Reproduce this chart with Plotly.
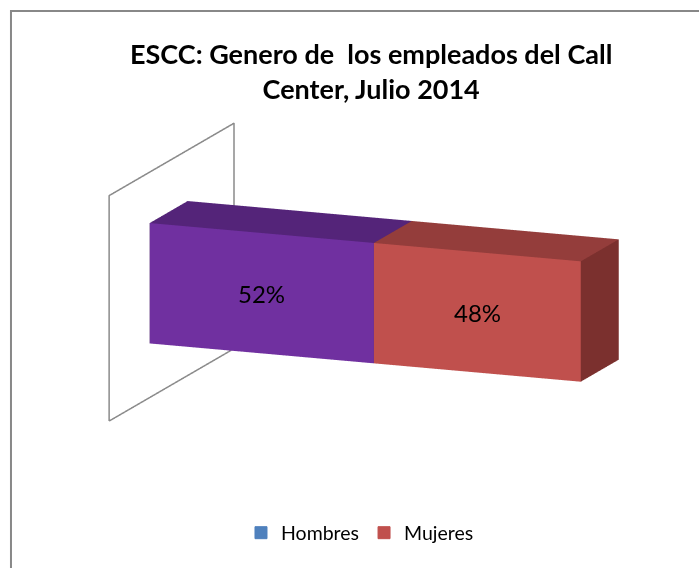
import plotly.graph_objects as go

# Chart data
categories = ["Hombres", "Mujeres"]
values = [52, 48]                      # percent of staff
legend_colors = ["#4F81BD", "#C0504D"]  # legend swatches
front_colors = ["#7030A0", "#C0504D"]   # front faces of the bar segments
top_colors = ["#542479", "#943D3B"]     # top faces
side_colors = ["#3E1A5A", "#7B302E"]    # end faces
label_texts = ["52%", "48%"]

title_text = "ESCC: Genero de\u00a0 los empleados del Call<br>Center, Julio 2014"

# Bar cross-section (same units as the percentage axis)
BAR_DEPTH = 22.5
BAR_HEIGHT = 26.7

# Side wall extents
WALL_Y = (-24.0, 50.0)
WALL_Z = (-12.0, 38.0)

X_RANGE = (0, 100)
Y_RANGE = (-25, 52)
Z_RANGE = (-13, 42)

# Orthographic zoom factor of the 3D scene
ZOOM = 1.63


def box_mesh(x0, x1, y0, y1, z0, z1, front, top, side):
    xs = [x0, x1, x1, x0, x0, x1, x1, x0]
    ys = [y0, y0, y1, y1, y0, y0, y1, y1]
    zs = [z0, z0, z0, z0, z1, z1, z1, z1]
    faces = [
        ((0, 1, 5), front), ((0, 5, 4), front),   # front
        ((3, 7, 6), top), ((3, 6, 2), top),       # back
        ((0, 3, 2), top), ((0, 2, 1), top),       # bottom
        ((4, 5, 6), top), ((4, 6, 7), top),       # top
        ((0, 4, 7), side), ((0, 7, 3), side),     # left end
        ((1, 2, 6), side), ((1, 6, 5), side),     # right end
    ]
    return dict(
        x=xs, y=ys, z=zs,
        i=[f[0][0] for f in faces],
        j=[f[0][1] for f in faces],
        k=[f[0][2] for f in faces],
        facecolor=[f[1] for f in faces],
    )


fig = go.Figure()

start = 0
for name, val, fc, tc, sc in zip(categories, values, front_colors, top_colors, side_colors):
    m = box_mesh(start, start + val, 0, BAR_DEPTH, 0, BAR_HEIGHT, fc, tc, sc)
    fig.add_trace(go.Mesh3d(
        **m, name=name, showlegend=False, flatshading=True, hoverinfo="skip",
        lighting=dict(ambient=1, diffuse=0, specular=0, roughness=1, fresnel=0),
    ))
    start += val

# Side wall outline
fig.add_trace(go.Scatter3d(
    x=[0, 0, 0, 0, 0],
    y=[WALL_Y[0], WALL_Y[1], WALL_Y[1], WALL_Y[0], WALL_Y[0]],
    z=[WALL_Z[0], WALL_Z[0], WALL_Z[1], WALL_Z[1], WALL_Z[0]],
    mode="lines", line=dict(color="#8A8A8A", width=3),
    showlegend=False, hoverinfo="skip",
))

# Legend entries (swatches only, nothing drawn in the hidden 2D axes)
for name, col in zip(categories, legend_colors):
    fig.add_trace(go.Bar(x=[name], y=[None], name=name, marker_color=col,
                         marker_line=dict(color=col, width=1),
                         showlegend=True, hoverinfo="skip"))

# Value labels on the front faces
annotations3d = []
start = 0
for val, txt in zip(values, label_texts):
    annotations3d.append(dict(
        x=start + val / 2, y=0, z=BAR_HEIGHT / 2, text=txt, showarrow=False,
        font=dict(family="Lato", size=24, color="#000000"),
    ))
    start += val

spans = [X_RANGE[1] - X_RANGE[0], Y_RANGE[1] - Y_RANGE[0], Z_RANGE[1] - Z_RANGE[0]]
mx = max(spans)

eye_dir = (0.355, -0.907, 0.227)
dist = 3.0
axis_off = dict(visible=False, showbackground=False, showgrid=False, zeroline=False,
                showspikes=False)

fig.update_layout(
    width=699, height=568,
    margin=dict(l=0, r=0, t=0, b=0),
    paper_bgcolor="white", plot_bgcolor="rgba(0,0,0,0)",
    font=dict(family="Lato", color="#000000"),
    xaxis=dict(visible=False, fixedrange=True), yaxis=dict(visible=False, fixedrange=True),
    showlegend=True,
    scene=dict(
        domain=dict(x=[0.11, 1.0], y=[0.0, 1.0]),
        xaxis=dict(range=list(X_RANGE), **axis_off),
        yaxis=dict(range=list(Y_RANGE), **axis_off),
        zaxis=dict(range=list(Z_RANGE), **axis_off),
        aspectmode="manual",
        aspectratio=dict(x=ZOOM * spans[0] / mx, y=ZOOM * spans[1] / mx,
                         z=ZOOM * spans[2] / mx),
        camera=dict(
            projection=dict(type="orthographic"),
            up=dict(x=0, y=0, z=1),
            center=dict(x=0, y=0, z=0),
            eye=dict(x=dist * eye_dir[0], y=dist * eye_dir[1], z=dist * eye_dir[2]),
        ),
        annotations=annotations3d,
        bgcolor="rgba(0,0,0,0)",
    ),
    legend=dict(orientation="h", x=0.515, xanchor="center", y=0.0616, yanchor="middle",
                font=dict(family="Lato", size=19.5), bgcolor="rgba(0,0,0,0)",
                itemwidth=30),
    annotations=[dict(
        text="<b>" + title_text + "</b>", x=0.531, y=0.875, xref="paper", yref="paper",
        xanchor="center", yanchor="middle", showarrow=False,
        font=dict(family="Lato", size=27, color="#000000"),
    )],
    shapes=[dict(
        type="path", xref="paper", yref="paper",
        path="M 0.0157,-0.05 L 0.0157,0.9806 L 1.05,0.9806",
        line=dict(color="#888888", width=2),
    )],
)

fig.write_html("out.html")
